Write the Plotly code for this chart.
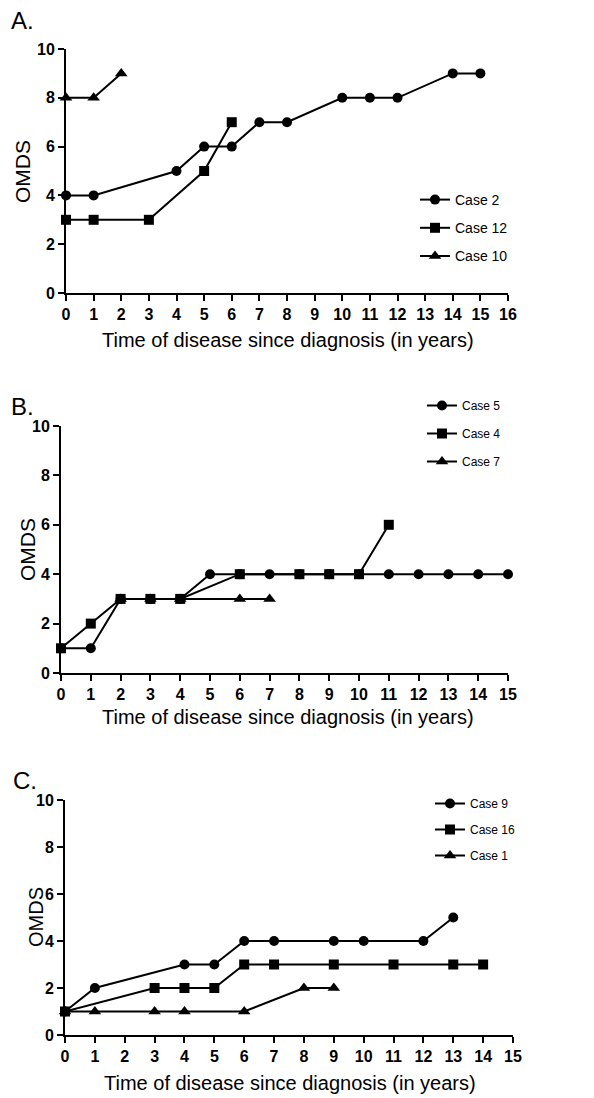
import plotly.graph_objects as go

# ---------------- data ----------------
# Panel A
a_case2_x = [0, 1, 4, 5, 6, 7, 8, 10, 11, 12, 14, 15]
a_case2_y = [4, 4, 5, 6, 6, 7, 7, 8, 8, 8, 9, 9]
a_case12_x = [0, 1, 3, 5, 6]
a_case12_y = [3, 3, 3, 5, 7]
a_case10_x = [0, 1, 2]
a_case10_y = [8, 8, 9]

# Panel B
b_case5_x = [0, 1, 2, 3, 4, 5, 6, 7, 8, 9, 10, 11, 12, 13, 14, 15]
b_case5_y = [1, 1, 3, 3, 3, 4, 4, 4, 4, 4, 4, 4, 4, 4, 4, 4]
b_case4_x = [0, 1, 2, 3, 4, 6, 8, 9, 10, 11]
b_case4_y = [1, 2, 3, 3, 3, 4, 4, 4, 4, 6]
b_case7_x = [2, 3, 4, 6, 7]
b_case7_y = [3, 3, 3, 3, 3]

# Panel C
c_case9_x = [0, 1, 4, 5, 6, 7, 9, 10, 12, 13]
c_case9_y = [1, 2, 3, 3, 4, 4, 4, 4, 4, 5]
c_case16_x = [0, 3, 4, 5, 6, 7, 9, 11, 13, 14]
c_case16_y = [1, 2, 2, 2, 3, 3, 3, 3, 3, 3]
c_case1_x = [0, 1, 3, 4, 6, 8, 9]
c_case1_y = [1, 1, 1, 1, 1, 2, 2]

y_ticks = [0, 2, 4, 6, 8, 10]
x_ticks_a = list(range(0, 17))
x_ticks_bc = list(range(0, 16))
x_title = "Time of disease since diagnosis (in years)"
y_title = "OMDS"

# ---------------- figure ----------------
OFF = 8  # page body margin
W, H = 594 - OFF, 1098 - OFF
REG = "Liberation Sans, Arial, sans-serif"

fig = go.Figure()

symbols = {"c": "circle", "s": "square", "t": "triangle-up"}


def add(x, y, name, sym, xa, ya, leg, rank):
    fig.add_trace(go.Scatter(
        x=x, y=y, name=name, mode="lines+markers",
        line=dict(color="black", width=2),
        marker=dict(symbol=symbols[sym], size=10 if sym != "t" else 11, color="black"),
        xaxis=xa, yaxis=ya, legend=leg, legendgroup=name, legendrank=rank,
        cliponaxis=False,
    ))


add(a_case2_x, a_case2_y, "Case 2", "c", "x", "y", "legend", 1)
add(a_case12_x, a_case12_y, "Case 12", "s", "x", "y", "legend", 2)
add(a_case10_x, a_case10_y, "Case 10", "t", "x", "y", "legend", 3)

add(b_case5_x, b_case5_y, "Case 5", "c", "x2", "y2", "legend2", 1)
add(b_case7_x, b_case7_y, "Case 7", "t", "x2", "y2", "legend2", 3)
add(b_case4_x, b_case4_y, "Case 4", "s", "x2", "y2", "legend2", 2)

add(c_case9_x, c_case9_y, "Case 9", "c", "x3", "y3", "legend3", 1)
add(c_case16_x, c_case16_y, "Case 16", "s", "x3", "y3", "legend3", 2)
add(c_case1_x, c_case1_y, "Case 1", "t", "x3", "y3", "legend3", 3)


def px_x(p):
    return (p - OFF) / W


def px_y(p):
    return 1 - (p - OFF) / H


TICKFONT = dict(family=REG, size=16, color="black", weight="bold")


def xax(dom, rng, ticks):
    return dict(domain=dom, range=rng, tickvals=ticks, ticks="outside", ticklen=6,
                tickwidth=2, tickcolor="black", showline=True, linewidth=2, linecolor="black",
                showgrid=False, zeroline=False, fixedrange=True, automargin=False,
                tickfont=TICKFONT)


def yax(dom):
    return dict(domain=dom, range=[0, 10], tickvals=y_ticks, ticks="outside", ticklen=6,
                tickwidth=2, tickcolor="black", showline=True, linewidth=2, linecolor="black",
                showgrid=False, zeroline=False, fixedrange=True, automargin=False,
                tickfont=TICKFONT)


def leg(xp, yp, size, gap):
    return dict(x=px_x(xp), y=px_y(yp), xanchor="left", yanchor="top",
                bgcolor="rgba(0,0,0,0)", font=dict(family=REG, size=size, color="black"),
                tracegroupgap=gap, traceorder="grouped", itemwidth=30)


fig.update_layout(
    width=W, height=H,
    margin=dict(l=0, r=0, t=0, b=0, pad=0, autoexpand=False),
    paper_bgcolor="white", plot_bgcolor="white",
    xaxis=dict(xax([px_x(66), px_x(508)], [0, 16], x_ticks_a), anchor="y"),
    yaxis=dict(yax([px_y(293), px_y(49)]), anchor="x"),
    xaxis2=dict(xax([px_x(61), px_x(508)], [0, 15], x_ticks_bc), anchor="y2"),
    yaxis2=dict(yax([px_y(673), px_y(426)]), anchor="x2"),
    xaxis3=dict(xax([px_x(65), px_x(513)], [0, 15], x_ticks_bc), anchor="y3"),
    yaxis3=dict(yax([px_y(1035), px_y(800)]), anchor="x3"),
    legend=leg(415, 184, 14, 7),
    legend2=leg(422, 391, 12, 9),
    legend3=leg(430, 789, 12, 7),
    showlegend=True,
)

# panel labels
for txt, xp, yp, sz in [("A.", 9, 21, 24), ("B.", 9, 406, 24), ("C.", 11, 780, 24)]:
    fig.add_annotation(text=txt, x=px_x(xp), y=px_y(yp), xref="paper", yref="paper",
                       xanchor="left", yanchor="middle", showarrow=False,
                       font=dict(family=REG, size=sz, color="black"))

# axis titles
for xc, yc, sz in [(288, 340, 20), (288, 717, 20), (290, 1083, 20)]:
    fig.add_annotation(text=x_title, x=px_x(xc), y=px_y(yc), xref="paper", yref="paper",
                       xanchor="center", yanchor="middle", showarrow=False,
                       font=dict(family=REG, size=sz, color="black"))

for xc, yc, sz in [(22, 172, 21), (27, 549, 21), (36, 917, 20)]:
    fig.add_annotation(text=y_title, x=px_x(xc), y=px_y(yc), xref="paper", yref="paper",
                       xanchor="center", yanchor="middle", showarrow=False, textangle=-90,
                       font=dict(family=REG, size=sz, color="black"))

fig.write_html("out.html")
